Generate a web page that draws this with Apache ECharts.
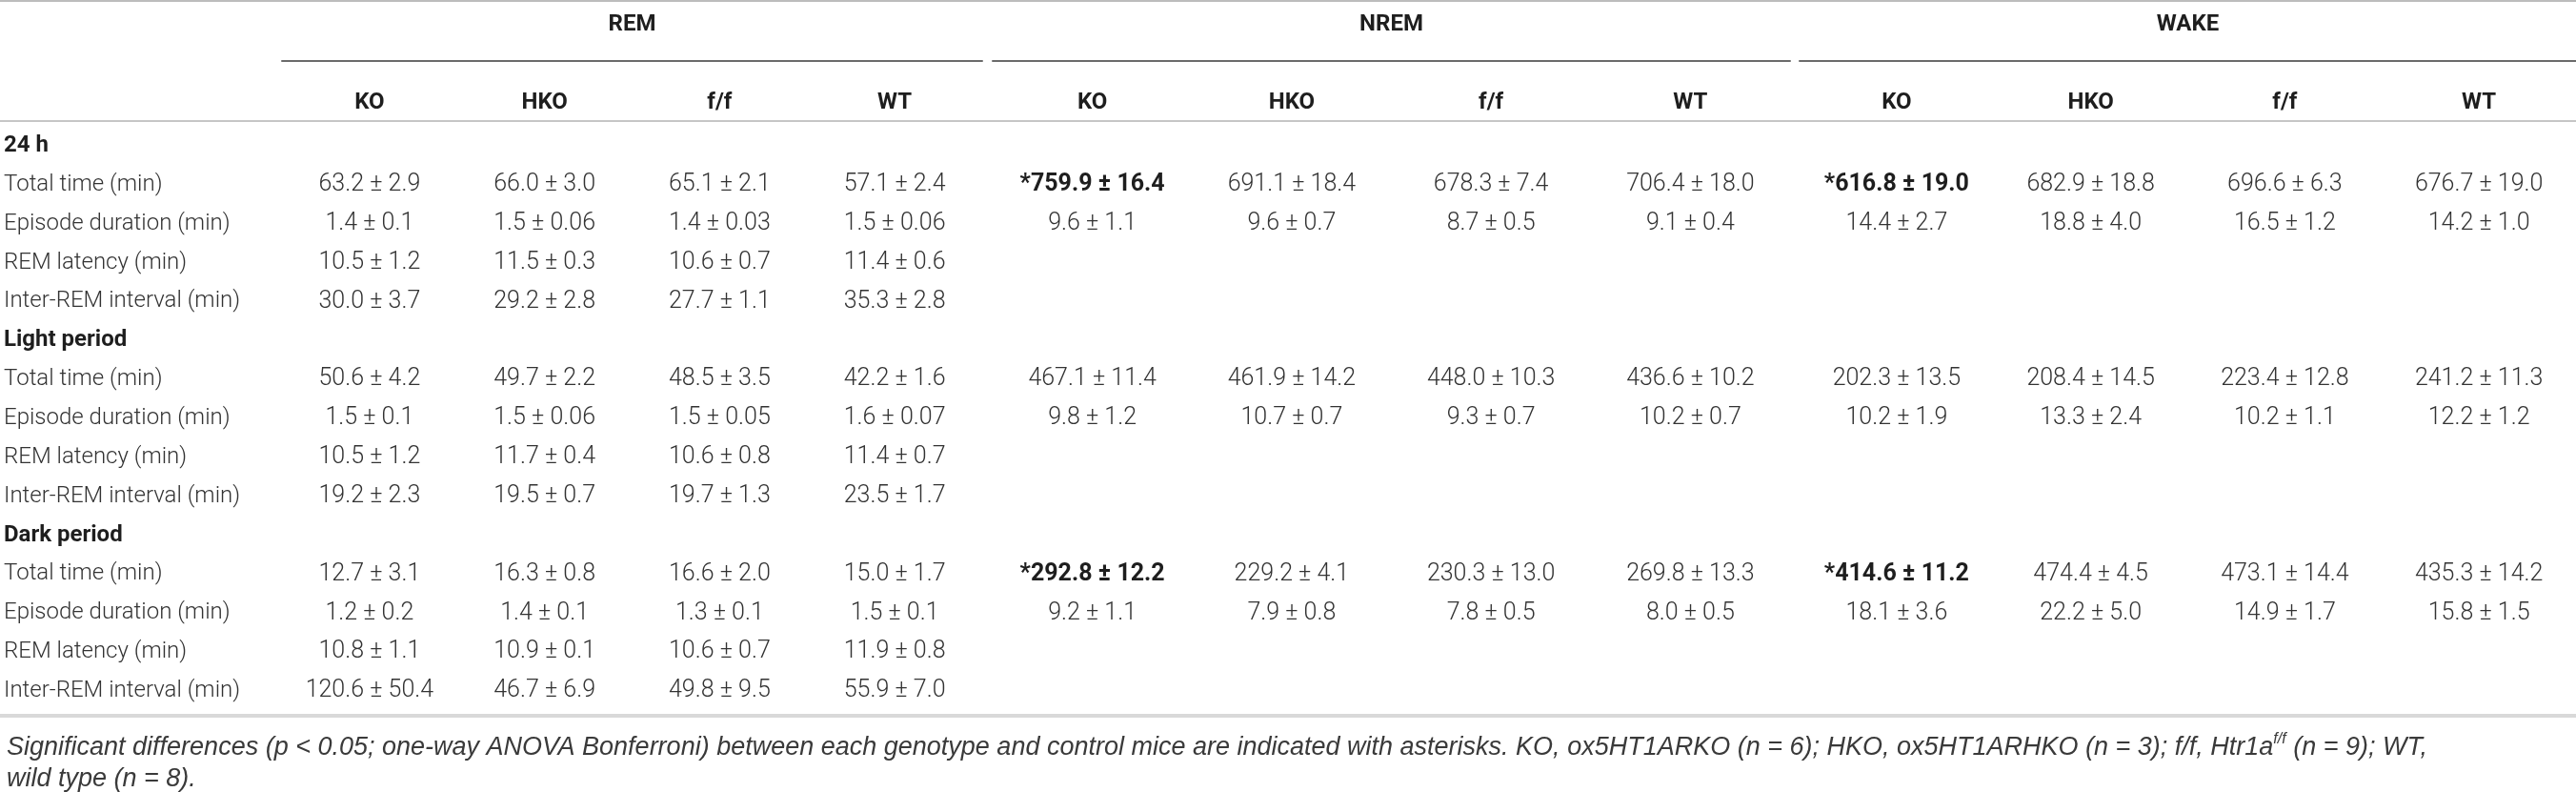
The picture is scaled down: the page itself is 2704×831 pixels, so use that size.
<!DOCTYPE html>
<html>
<head>
<meta charset="utf-8">
<title>REM / NREM / WAKE</title>
<script src="https://cdn.jsdelivr.net/npm/echarts@6/dist/echarts.min.js"></script>
<style>
    html, body {margin: 0; padding: 0; background: #fff;}
    #main {width: 2704px; height: 831px;}
</style>
</head>
<body>
<div id="main"></div>
<script>
// 表头
const groups = ['REM', 'NREM', 'WAKE'];
const genotypes = ['KO', 'HKO', 'f/f', 'WT'];
const sections = ['24 h', 'Light period', 'Dark period'];
const measures = ['Total time (min)', 'Episode duration (min)', 'REM latency (min)', 'Inter-REM interval (min)'];

// REM：每个时段 4 行（按 measures 顺序），每行 KO/HKO/f/f/WT
const remMean = [
    [63.2, 66.0, 65.1, 57.1], [1.4, 1.5, 1.4, 1.5], [10.5, 11.5, 10.6, 11.4], [30.0, 29.2, 27.7, 35.3],
    [50.6, 49.7, 48.5, 42.2], [1.5, 1.5, 1.5, 1.6], [10.5, 11.7, 10.6, 11.4], [19.2, 19.5, 19.7, 23.5],
    [12.7, 16.3, 16.6, 15.0], [1.2, 1.4, 1.3, 1.5], [10.8, 10.9, 10.6, 11.9], [120.6, 46.7, 49.8, 55.9]
];
const remSem = [
    [2.9, 3.0, 2.1, 2.4], [0.1, 0.06, 0.03, 0.06], [1.2, 0.3, 0.7, 0.6], [3.7, 2.8, 1.1, 2.8],
    [4.2, 2.2, 3.5, 1.6], [0.1, 0.06, 0.05, 0.07], [1.2, 0.4, 0.8, 0.7], [2.3, 0.7, 1.3, 1.7],
    [3.1, 0.8, 2.0, 1.7], [0.2, 0.1, 0.1, 0.1], [1.1, 0.1, 0.7, 0.8], [50.4, 6.9, 9.5, 7.0]
];
// NREM / WAKE：每个时段只有 Total time 和 Episode duration
const nremMean = [
    [759.9, 691.1, 678.3, 706.4], [9.6, 9.6, 8.7, 9.1],
    [467.1, 461.9, 448.0, 436.6], [9.8, 10.7, 9.3, 10.2],
    [292.8, 229.2, 230.3, 269.8], [9.2, 7.9, 7.8, 8.0]
];
const nremSem = [
    [16.4, 18.4, 7.4, 18.0], [1.1, 0.7, 0.5, 0.4],
    [11.4, 14.2, 10.3, 10.2], [1.2, 0.7, 0.7, 0.7],
    [12.2, 4.1, 13.0, 13.3], [1.1, 0.8, 0.5, 0.5]
];
const wakeMean = [
    [616.8, 682.9, 696.6, 676.7], [14.4, 18.8, 16.5, 14.2],
    [202.3, 208.4, 223.4, 241.2], [10.2, 13.3, 10.2, 12.2],
    [414.6, 474.4, 473.1, 435.3], [18.1, 22.2, 14.9, 15.8]
];
const wakeSem = [
    [19.0, 18.8, 6.3, 19.0], [2.7, 4.0, 1.2, 1.0],
    [13.5, 14.5, 12.8, 11.3], [1.9, 2.4, 1.1, 1.2],
    [11.2, 4.5, 14.4, 14.2], [3.6, 5.0, 1.7, 1.5]
];
// 显著差异（加星号、加粗）：[组, 数据行, 基因型]
const significant = [['NREM', 0, 0], ['NREM', 4, 0], ['WAKE', 0, 0], ['WAKE', 4, 0]];

const footnote = '{t|Significant differences (p < 0.05; one-way ANOVA Bonferroni) between each genotype and control mice are indicated with asterisks. KO, ox5HT1ARKO (n = 6); HKO, ox5HT1ARHKO (n = 3); f/f, Htr1a}{sup|f/f}{t| (n = 9); WT,}\n{t|wild type (n = 8).}';

// 布局
const FONT = "Roboto, 'Liberation Sans', Arial, sans-serif";
const NOTE_FONT = "'Liberation Sans', Arial, sans-serif";
const bodyColor = '#333';
const headColor = '#1e1e1e';
const rowTop = 132.6;       // 第一行上沿
const rowBottom = 85.5;     // 最后一行下沿到底部
const groupLeft = [296, 1042, 1889];
const groupWidth = [735, 837, 849];

const groupData = {
    REM: {mean: remMean, sem: remSem},
    NREM: {mean: nremMean, sem: nremSem},
    WAKE: {mean: wakeMean, sem: wakeSem}
};

function fmt(m, s) {
    return m.toFixed(1) + ' ± ' + (s < 0.1 ? s.toFixed(2) : s.toFixed(1));
}

// 表体的行：时段标题 + 指标
const rows = [];
sections.forEach(s => {
    rows.push({text: s, bold: true});
    measures.forEach(m => rows.push({text: m, bold: false}));
});
const rowIndex = rows.map((r, i) => i);

const chart = echarts.init(document.getElementById('main'));

const grid = [{left: 0, right: 0, top: rowTop, bottom: rowBottom}];
const ruleAxis = (position, offset, color, width) => ({
    gridIndex: 0, type: 'value', min: 0, max: 1, position, offset,
    axisLine: {show: true, lineStyle: {color, width}},
    axisTick: {show: false}, axisLabel: {show: false}, splitLine: {show: false}
});
// 三条横贯全表的分隔线
const xAxis = [
    ruleAxis('top', 5.6, '#c6c6c6', 2),
    ruleAxis('top', 131.6, '#bcbcbc', 2),
    ruleAxis('bottom', 5.5, '#d9d9d9', 4)
];
const yAxis = [
    {gridIndex: 0, type: 'category', data: rowIndex, inverse: true, show: false}
];
const series = [{
    type: 'custom',
    xAxisIndex: 0,
    yAxisIndex: 0,
    data: rows.map((r, i) => [0, i]),
    renderItem: (params, api) => {
        const r = rows[params.dataIndex];
        const p = api.coord([0, api.value(1)]);
        return {
            type: 'text',
            style: {
                x: p[0] + 4, y: p[1], text: r.text,
                align: 'left', verticalAlign: 'middle',
                fontFamily: FONT, fontSize: 24,
                fontWeight: r.bold ? 'bold' : 300,
                fill: r.bold ? headColor : bodyColor
            }
        };
    }
}];

const firstGroupAxis = xAxis.length;
groups.forEach((g, gi) => {
    grid.push({left: groupLeft[gi], width: groupWidth[gi], top: rowTop, bottom: rowBottom});
    xAxis.push({
        gridIndex: gi + 1,
        type: 'category',
        data: genotypes,
        position: 'top',
        offset: rowTop - 64,
        name: g,
        nameLocation: 'middle',
        nameGap: 38,
        nameTextStyle: {fontFamily: FONT, fontSize: 24, fontWeight: 'bold', color: headColor, verticalAlign: 'middle'},
        axisLine: {show: true, lineStyle: {color: '#6b6b6b', width: 2}},
        axisTick: {show: false},
        axisLabel: {inside: true, margin: 44, verticalAlign: 'middle', fontFamily: FONT, fontSize: 24, fontWeight: 'bold', color: headColor},
        splitLine: {show: false}
    });
    yAxis.push({gridIndex: gi + 1, type: 'category', data: rowIndex, inverse: true, show: false});

    const {mean, sem} = groupData[g];
    const perSection = mean.length / sections.length;
    const cells = [];
    mean.forEach((row, ri) => {
        const s = Math.floor(ri / perSection);
        const k = ri % perSection;
        row.forEach((m, ci) => {
            const sig = significant.some(d => d[0] === g && d[1] === ri && d[2] === ci);
            cells.push({col: ci, row: s * (measures.length + 1) + 1 + k, text: (sig ? '*' : '') + fmt(m, sem[ri][ci]), sig});
        });
    });
    series.push({
        type: 'custom',
        name: g,
        xAxisIndex: firstGroupAxis + gi,
        yAxisIndex: gi + 1,
        clip: false,
        data: cells.map(c => [c.col, c.row]),
        renderItem: (params, api) => {
            const c = cells[params.dataIndex];
            const p = api.coord([api.value(0), api.value(1)]);
            return {
                type: 'text',
                style: {
                    x: p[0], y: p[1], text: c.text,
                    align: 'center', verticalAlign: 'middle',
                    fontFamily: FONT, fontSize: 25,
                    fontWeight: c.sig ? 'bold' : 300,
                    fill: c.sig ? headColor : bodyColor
                }
            };
        }
    });
});

chart.setOption({
    animation: false,
    backgroundColor: '#fff',
    title: {
        text: footnote,
        left: 2,
        top: 763,
        textStyle: {
            fontWeight: 'normal',
            rich: {
                t: {fontFamily: NOTE_FONT, fontSize: 27, fontStyle: 'italic', fontWeight: 'normal', color: '#3a3a3a', lineHeight: 33},
                sup: {fontFamily: NOTE_FONT, fontSize: 16, fontStyle: 'italic', fontWeight: 'normal', color: '#3a3a3a', lineHeight: 33, verticalAlign: 'top'}
            }
        }
    },
    grid,
    xAxis,
    yAxis,
    series
});
</script>
</body>
</html>
